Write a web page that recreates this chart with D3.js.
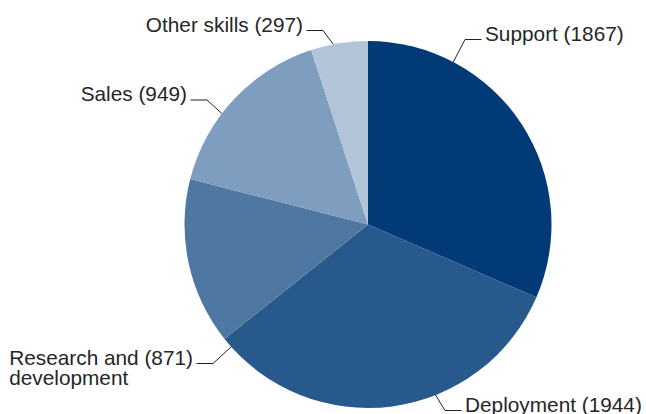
<!DOCTYPE html>
<html>
<head>
<meta charset="utf-8">
<script src="https://cdn.jsdelivr.net/npm/d3@7"></script>
<style>
  html, body { margin: 0; padding: 0; background: #fff; }
  svg { display: block; }
  text { font-family: "Liberation Sans", Arial, sans-serif; font-size: 20.8px; fill: #262626; }
</style>
</head>
<body>
<svg id="chart" width="646" height="414"></svg>
<script>
// Skill categories, headcount per category and slice colours
const categories = ["Support", "Deployment", "Research and development", "Sales", "Other skills"];
const values = [1867, 1944, 871, 949, 297];
const colors = ["#023a77", "#28598c", "#4e77a1", "#7f9ebf", "#b2c4d8"];

// Label text lines (value shown in parentheses after the first line)
const labelLines = [
  ["Support"],
  ["Deployment"],
  ["Research and", "development"],
  ["Sales"],
  ["Other skills"]
];

// Leader layout: angle on the rim (degrees clockwise from 12 o'clock),
// elbow point, and which side the text sits on
const leaderAngle = [27.7, 158.4, 228.2, 307.2, 349.1];
const elbow = [[465, 39.5], [445, 410.5], [213, 363.5], [207, 100], [323, 30.5]];
const side = [1, 1, -1, -1, -1];

const width = 646, height = 414;
const cx = 368, cy = 224.5, radius = 183.5;

const svg = d3.select("#chart");
const g = svg.append("g").attr("transform", `translate(${cx},${cy})`);

const pie = d3.pie().sort(null).value(d => d.value);
const arc = d3.arc().innerRadius(0).outerRadius(radius);

const data = categories.map((c, i) => ({ name: c, value: values[i], color: colors[i], idx: i }));
const arcs = pie(data);

g.selectAll("path.slice")
  .data(arcs)
  .join("path")
  .attr("class", "slice")
  .attr("d", arc)
  .attr("fill", d => d.data.color);

// Leader lines and labels
const lab = svg.append("g");
arcs.forEach(a => {
  const i = a.data.idx;
  const ang = leaderAngle[i] * Math.PI / 180;
  const ax = cx + radius * Math.sin(ang);
  const ay = cy - radius * Math.cos(ang);
  const [ex, ey] = elbow[i];
  const hx = ex + side[i] * 16.5;
  lab.append("path")
    .attr("d", `M${ax},${ay}L${ex},${ey}L${hx},${ey}`)
    .attr("fill", "none")
    .attr("stroke", "#222")
    .attr("stroke-width", 1);

  const lines = labelLines[i];
  const tx = hx + side[i] * 3.5;
  const t = lab.append("text")
    .attr("y", ey + 1);
  if (lines.length === 1) {
    t.attr("x", tx)
      .attr("text-anchor", side[i] > 0 ? "start" : "end")
      .text(`${lines[0]} (${a.data.value})`);
  } else {
    t.attr("x", tx).attr("text-anchor", "end")
      .text(`${lines[0]} (${a.data.value})`);
    const w = t.node().getComputedTextLength();
    const left = tx - w;
    t.attr("x", left).attr("text-anchor", "start");
    lines.slice(1).forEach((ln, k) => {
      lab.append("text")
        .attr("x", left)
        .attr("y", ey + 1 + 20 * (k + 1))
        .text(ln);
    });
  }
});
</script>
</body>
</html>
